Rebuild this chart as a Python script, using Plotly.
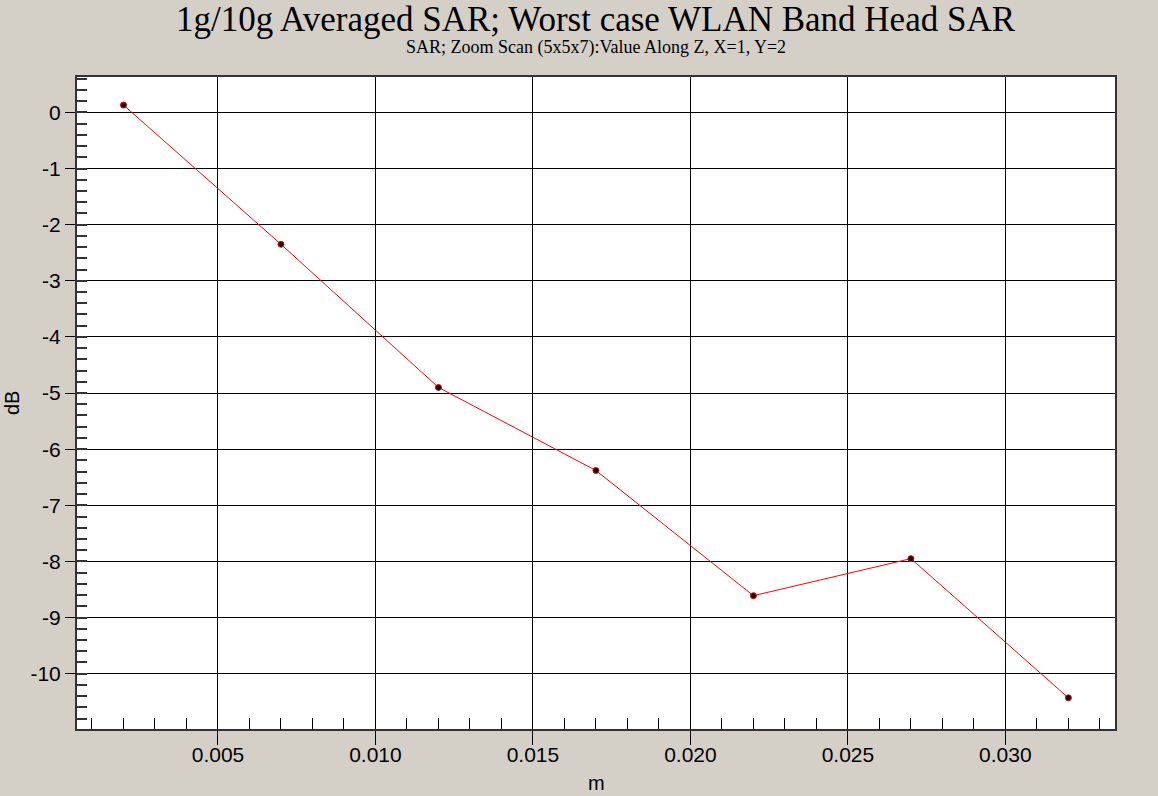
import plotly.graph_objects as go

# Data
z_m = [0.002, 0.007, 0.012, 0.017, 0.022, 0.027, 0.032]
sar_db = [0.13, -2.35, -4.90, -6.38, -8.61, -7.95, -10.43]

x_tickvals = [0.005, 0.010, 0.015, 0.020, 0.025, 0.030]
x_ticktext = ["0.005", "0.010", "0.015", "0.020", "0.025", "0.030"]
y_tickvals = [0, -1, -2, -3, -4, -5, -6, -7, -8, -9, -10]
y_ticktext = ["0", "-1", "-2", "-3", "-4", "-5", "-6", "-7", "-8", "-9", "-10"]

title_text = "1g/10g Averaged SAR; Worst case WLAN Band Head SAR"
subtitle_text = "SAR; Zoom Scan (5x5x7):Value Along Z, X=1, Y=2"
x_title = "m"
y_title = "dB"

BG = "#D4D0C8"
W, H = 1158, 796
ML, MR, MT, MB = 77, 43, 77, 67
PW, PH = W - ML - MR, H - MT - MB

def px_x(px):
    return (px - ML) / PW

def px_y(py):
    # py measured from the top of the page
    return (H - MB - py) / PH

fig = go.Figure()
fig.add_trace(go.Scatter(
    x=z_m, y=sar_db, mode="lines+markers",
    line=dict(color="#FF0000", width=1),
    marker=dict(color="#000000", size=6, line=dict(color="#FF0000", width=1)),
    showlegend=False,
))

sans = "Liberation Sans, Arial, sans-serif"
serif = "Liberation Serif, Times New Roman, serif"
tick_font = dict(family=sans, size=21, color="#000000")

fig.update_layout(
    width=W, height=H,
    paper_bgcolor=BG, plot_bgcolor="#FFFFFF",
    margin=dict(l=ML, r=MR, t=MT, b=MB),
    xaxis=dict(
        range=[0.000524, 0.03348],
        tickmode="array", tickvals=x_tickvals, ticktext=x_ticktext,
        ticks="outside", ticklen=14, tickwidth=1, tickcolor="#000000",
        showgrid=True, gridcolor="#000000", gridwidth=1,
        showline=True, linecolor="#333333", linewidth=2, mirror=True,
        zeroline=False,
        tickfont=tick_font, ticklabelstandoff=-8,
        minor=dict(dtick=0.001, tick0=0, ticks="inside", ticklen=11,
                   tickwidth=1, tickcolor="#000000", showgrid=False),
    ),
    yaxis=dict(
        range=[-10.985, 0.63],
        tickmode="array", tickvals=y_tickvals, ticktext=y_ticktext,
        ticks="outside", ticklen=10, tickwidth=1, tickcolor="#000000",
        showgrid=True, gridcolor="#000000", gridwidth=1,
        showline=True, linecolor="#333333", linewidth=2, mirror=True,
        zeroline=False,
        tickfont=tick_font,
        minor=dict(dtick=0.2, tick0=0, ticks="inside", ticklen=10,
                   tickwidth=2, tickcolor="#333333", showgrid=False),
    ),
    annotations=[
        dict(text=title_text, x=0.5, y=px_y(20), xref="paper", yref="paper",
             showarrow=False, xanchor="center", yanchor="middle",
             font=dict(family=serif, size=35, color="#000000")),
        dict(text=subtitle_text, x=0.5, y=px_y(47), xref="paper", yref="paper",
             showarrow=False, xanchor="center", yanchor="middle",
             font=dict(family=serif, size=18, color="#000000")),
        dict(text=x_title, x=0.5, y=px_y(783), xref="paper", yref="paper",
             showarrow=False, xanchor="center", yanchor="middle",
             font=dict(family=sans, size=20, color="#000000")),
        dict(text=y_title, x=px_x(12), y=0.5, xref="paper", yref="paper",
             showarrow=False, xanchor="center", yanchor="middle", textangle=-90,
             font=dict(family=sans, size=20, color="#000000")),
    ],
)

fig.write_html(
    "out.html",
    config={"displayModeBar": False},
    post_script="document.body.style.margin='0';document.body.style.background='%s';" % BG,
)
